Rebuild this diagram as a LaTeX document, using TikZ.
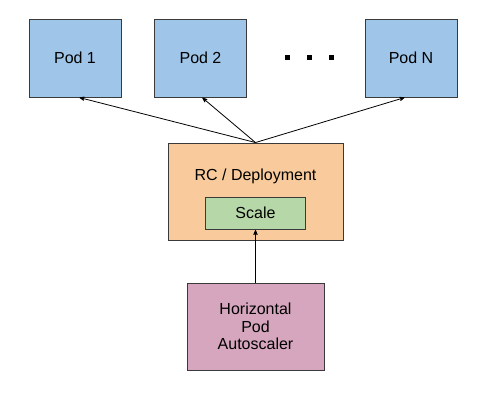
\documentclass[tikz,border=0pt]{standalone}
\usepackage{fontspec}
\setmainfont{Liberation Sans}
\usepackage{xcolor}
\usetikzlibrary{arrows,shapes,positioning,calc}

\definecolor{podblue}{HTML}{9FC5E8}
\definecolor{rcorange}{HTML}{F9CB9C}
\definecolor{scalegreen}{HTML}{B6D7A8}
\definecolor{hpamagenta}{HTML}{D5A6BD}
\definecolor{edgegray}{HTML}{3A3A3A}

\begin{document}
\begin{tikzpicture}[->,>=stealth',shorten >=0.5pt,
x=1pt,y=-1pt,
line width=0.8pt]

\tikzstyle{every node}=[font=\fontsize{16}{17.5}\selectfont, text=black]
\tikzstyle{box}=[rectangle, draw=edgegray, line width=0.9pt, align=center, inner sep=0pt]
\tikzstyle{pod}=[box, fill=podblue, minimum width=92pt, minimum height=78pt]

\useasboundingbox[fill=white] (0,0) rectangle (487,412);

%pods
\node[pod] (pod1) at (75,58) {Pod 1};
\node[pod] (pod2) at (200.5,58) {Pod 2};
\node[pod] (podn) at (411,58) {Pod N};
\foreach \x in {287,309,331}
  \fill[black] (\x-2.5,55.5) rectangle (\x+2.5,60.5);

%controller
\node[box, fill=rcorange, minimum width=175pt, minimum height=97pt]
(rc) at (255.5,191.5) {};
\node (rclabel) at (255.5,176) {RC / Deployment};
\node[box, fill=scalegreen, minimum width=100pt, minimum height=32pt]
(scale) at (255.5,213) {Scale};

%autoscaler
\node[box, fill=hpamagenta, minimum width=137pt, minimum height=87pt]
(hpa) at (255.5,326.5) {Horizontal\\Pod\\Autoscaler};

\draw[->] (rc.north) -- ($(pod1.south) + (4,0)$);
\draw[->] (rc.north) -- ($(pod2.south) + (1.5,0)$);
\draw[->] (rc.north) -- ($(podn.south) + (-6,0)$);
\draw[->] (hpa.north) -- (scale.south);

\end{tikzpicture}
\end{document}
